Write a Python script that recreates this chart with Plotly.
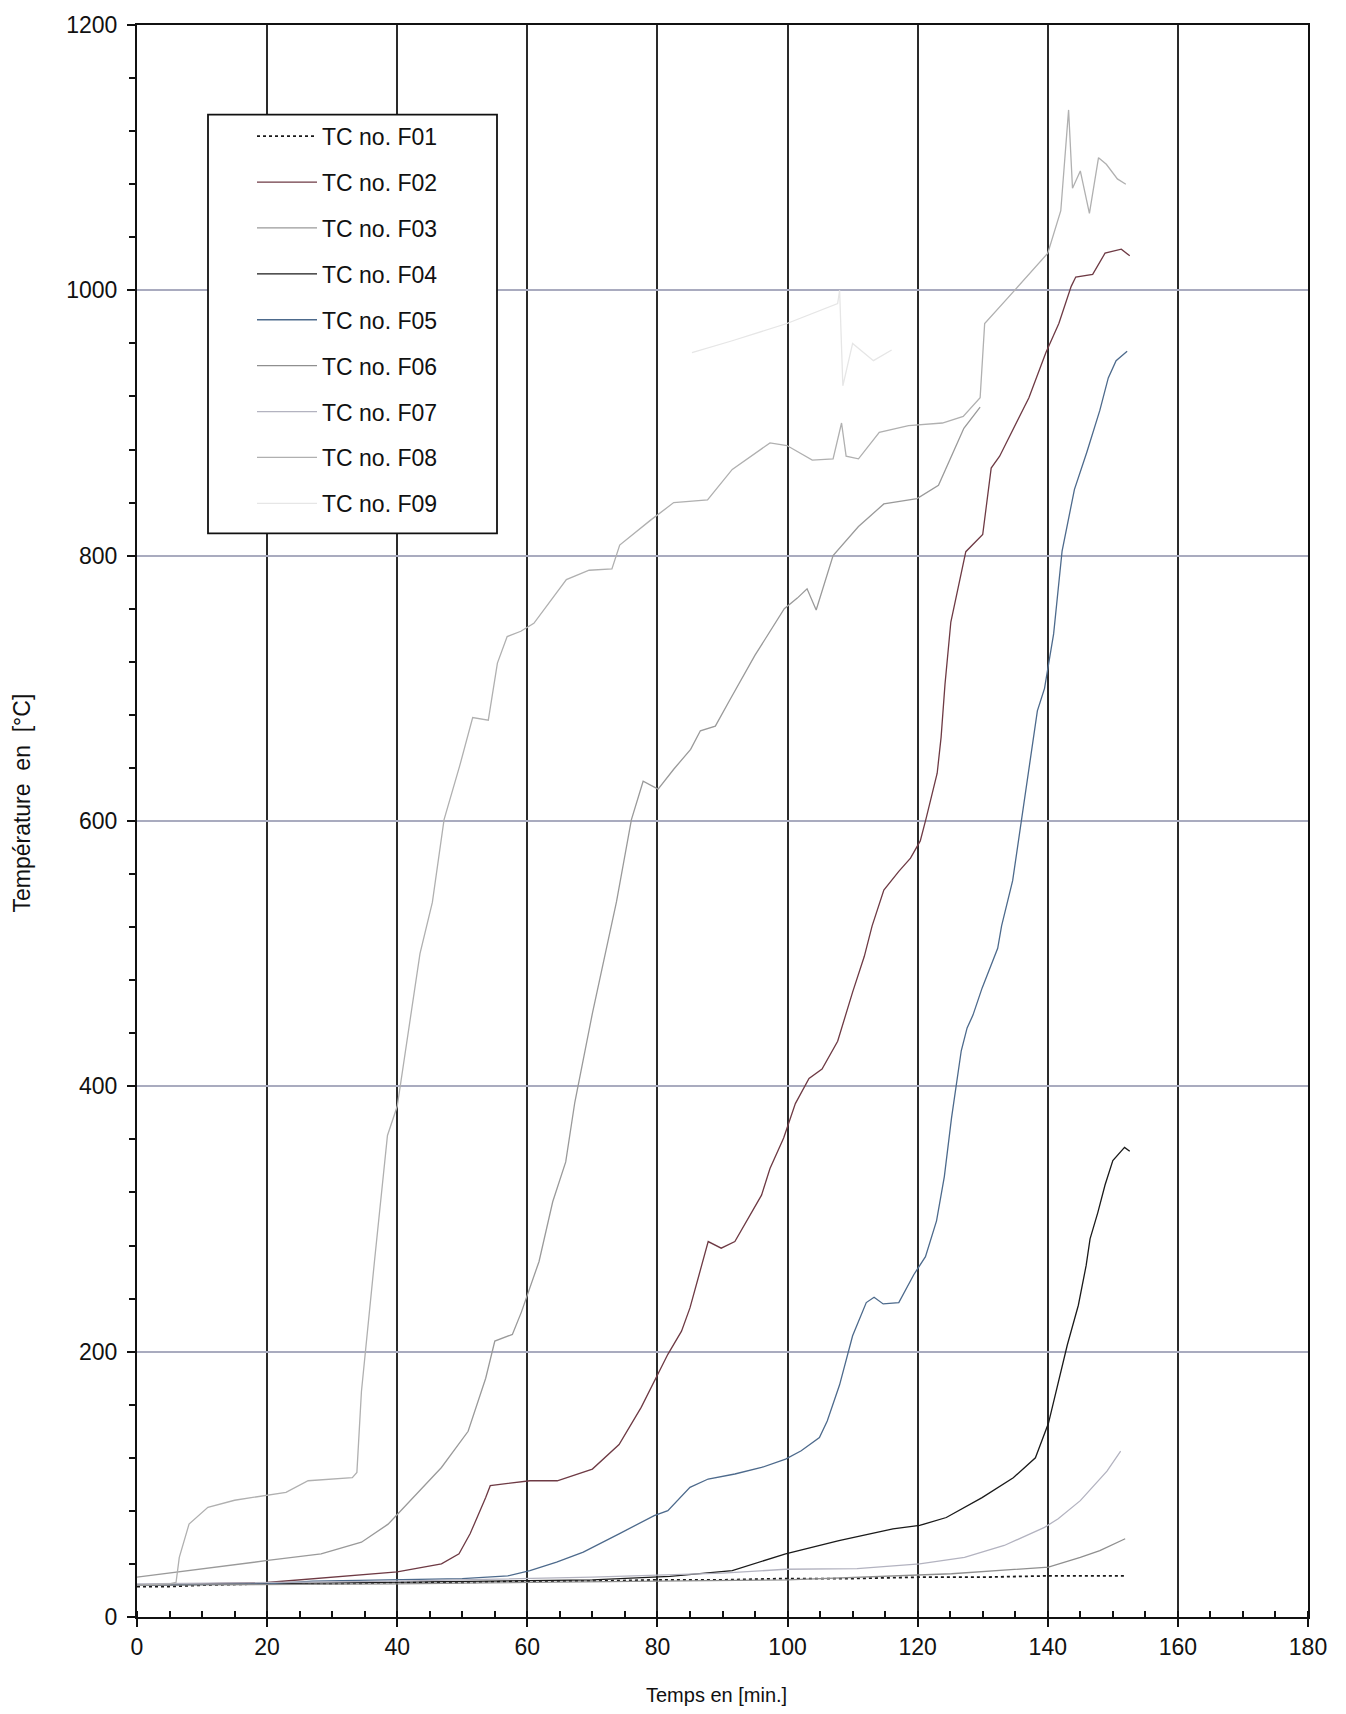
import plotly.graph_objects as go

# ---------------- data ----------------
t_f01 = [0, 5, 10, 20, 30, 40, 50, 60, 70, 80, 90, 100, 110, 120, 130, 140, 146, 152]
T_f01 = [23, 23, 24, 25, 25, 26, 26, 27, 27, 28, 28, 29, 29, 30, 30, 31, 31, 31]

t_f02 = [0, 20, 40, 46.8, 49.5, 51.2, 53.6, 54.3, 60.4, 64.6, 70, 74.1, 77.5, 79.2, 81.6, 83.7, 85, 86.4,
         87.8, 89.8, 91.9, 96, 97.3, 99.4, 101.2, 103.3, 105.3, 107.7, 110, 111.8, 113, 114.8, 117.1, 118.9,
         120.4, 121.3, 123, 123.6, 124.2, 125.1, 127.4, 130, 131.3, 132.6, 137.1, 139.7, 141.7, 143.6, 144.3,
         146.9, 148.8, 151.3, 152.6]
T_f02 = [24, 26, 34, 40, 47.6, 62.7, 90, 99, 102.7, 102.7, 111.5, 130, 158, 175, 198, 215.5, 233, 258,
         283, 278, 283, 318, 338, 361, 387, 406, 413, 434, 471, 498, 521, 548, 562, 572,
         585, 602, 636, 663, 703, 750, 803, 816, 866, 875, 919, 953, 975, 1003, 1010,
         1012, 1028, 1031, 1026]

t_f03 = [0, 10, 20.1, 28.3, 34.5, 38.6, 43.4, 46.8, 50.9, 53.6, 55, 57.7, 59.1, 61.8, 63.9, 65.9, 67.3, 70,
         73.7, 76, 77.8, 80.1, 82.5, 85.1, 86.6, 88.9, 91.1, 95, 99.5, 101.5, 103, 104.4, 107, 110.9, 114.8,
         119.9, 123.2, 127.1, 129.6]
T_f03 = [30, 36, 42.6, 47.6, 56.4, 70, 95, 112.7, 140, 180, 208, 213, 230, 268, 313, 343, 388, 455,
         539, 601, 630, 624, 639, 654, 668, 671.5, 691, 725, 760, 768, 775, 759, 800, 822, 839,
         843, 853, 896, 912]

t_f04 = [0, 20, 40, 60, 70, 81.9, 91.5, 99.7, 107.9, 116.2, 120.3, 124.4, 129.9, 134.7, 138.1, 140.1, 141.5,
         143, 144.7, 145.9, 146.5, 147.7, 148.8, 150, 151.8, 152.6]
T_f04 = [24, 25, 26, 27, 28, 30.6, 35, 47.6, 57.6, 66.4, 69, 75, 90, 105, 120, 146, 175,
         205, 235, 265, 285, 305, 325.6, 344, 354, 351]

t_f05 = [0, 20, 27, 40, 50, 57, 60.4, 64.5, 68.6, 74.1, 79.5, 81.6, 85, 87.8, 91.9, 96, 99.7, 102.1, 104.9,
         106.1, 108, 110, 112.1, 113.3, 114.7, 117.1, 119.4, 121.2, 122.9, 124.1, 125.2, 126.7, 127.6, 128.5,
         129.9, 132.3, 132.9, 134.6, 135.8, 136.9, 138.4, 139.5, 140.9, 142.2, 144.1, 146, 148, 149.3, 150.5,
         152.2]
T_f05 = [24, 25, 27, 28, 29, 31, 35, 41.3, 48.9, 62.7, 76.4, 80.2, 97.7, 104, 107.8, 112.7, 119, 125.3, 135.3,
         147.8, 175, 212, 237, 241, 236, 237, 258, 271.6, 298.6, 332, 376, 426.8, 444, 453.7,
         474, 504, 521, 555, 595.5, 636, 683, 700, 741, 803.5, 850, 878, 909.5, 934, 947,
         954]

t_f06 = [0, 40, 80, 100, 125.2, 140.1, 145, 148, 151.9]
T_f06 = [24, 25, 27, 28, 32.6, 37.6, 45, 50, 59]

t_f07 = [0, 40, 70, 90, 99.7, 110.7, 120.3, 127.2, 133.3, 139.5, 141.6, 145, 149.1, 151.2]
T_f07 = [25, 27, 30, 33, 36, 36.4, 40, 45, 53.9, 67.6, 74, 87.7, 110, 125]

t_f08 = [0, 5, 6, 6.5, 8, 10.9, 15, 22.9, 26.3, 33.1, 33.8, 34.5, 36.5, 38.5, 40, 42, 43.5, 45.4, 47.2,
         49.6, 51, 51.6, 54, 55.4, 56.9, 59, 61, 63.4, 66, 69.5, 73, 74.2, 78.9, 82.5, 87.7, 91.5, 97.3,
         99.9, 103.8, 107, 108.3, 109, 110.9, 114.1, 118.6, 123.8, 127, 129.6, 130.3, 134.9, 140, 142,
         143.2, 143.8, 145, 146.4, 147.8, 149, 150.7, 152]
T_f08 = [24, 25, 26, 45, 70, 82.7, 88, 94, 102.7, 105, 109, 170, 268, 363, 385, 450, 500, 538.6, 601,
         641.5, 666, 678, 676, 719, 739, 743, 749, 765, 782, 789, 790, 808, 826.6, 840, 842, 865, 885,
         883, 872, 873, 900, 875, 873, 893, 898, 900, 905, 919, 975, 1000, 1028, 1060,
         1136, 1077, 1090, 1058, 1100, 1095, 1084, 1080]

t_f09 = [85.3, 91.5, 99.9, 105, 107.7, 108, 108.5, 110, 113.2, 116]
T_f09 = [953, 962, 975, 985, 990, 1000, 928, 960, 947, 955]

names = ["TC no. F01", "TC no. F02", "TC no. F03", "TC no. F04", "TC no. F05",
         "TC no. F06", "TC no. F07", "TC no. F08", "TC no. F09"]
series_t = [t_f01, t_f02, t_f03, t_f04, t_f05, t_f06, t_f07, t_f08, t_f09]
series_T = [T_f01, T_f02, T_f03, T_f04, T_f05, T_f06, T_f07, T_f08, T_f09]

styles = [
    dict(color="#1a1a1a", width=1.8, dash="dot"),
    dict(color="#6e3a44", width=1.3, dash="solid"),
    dict(color="#9a9a9a", width=1.3, dash="solid"),
    dict(color="#1a1a1a", width=1.3, dash="solid"),
    dict(color="#4d6a8c", width=1.3, dash="solid"),
    dict(color="#8f8f8f", width=1.3, dash="solid"),
    dict(color="#b3b3c0", width=1.3, dash="solid"),
    dict(color="#b0b0b0", width=1.3, dash="solid"),
    dict(color="#e6e6e6", width=1.3, dash="solid"),
]

fig = go.Figure()
for i, (n, tx, ty, st) in enumerate(zip(names, series_t, series_T, styles)):
    fig.add_trace(go.Scatter(x=tx, y=ty, mode="lines", name=n, line=st,
                             legendgroup=n))

FONT = "Liberation Sans"
W, H = 1346, 1714
ml, mr, mt, mb = 137, 38, 20, 97
pw, ph = W - ml - mr, H - mt - mb

def px2x(px):
    return (px - ml) / pw

def px2y(py):
    return (H - mb - py) / ph

fig.update_layout(
    width=W, height=H,
    margin=dict(l=ml, r=mr, t=mt, b=mb),
    paper_bgcolor="white", plot_bgcolor="white",
    font=dict(family=FONT, color="#111"),
    showlegend=True,
    legend=dict(
        x=px2x(252), y=px2y(110), xanchor="left", yanchor="top",
        bgcolor="rgba(0,0,0,0)", borderwidth=0,
        font=dict(size=23, family=FONT, color="#111"),
        itemwidth=60, tracegroupgap=13, traceorder="grouped",
    ),
    xaxis=dict(
        range=[0, 180], tick0=0, dtick=20,
        showgrid=True, gridcolor="#2a2a2a", gridwidth=1.5,
        showline=True, linecolor="#111", linewidth=2, mirror=True,
        ticks="outside", ticklen=8, tickwidth=1.5, tickcolor="#111",
        minor=dict(ticks="inside", dtick=5, ticklen=6, tickwidth=1.5, tickcolor="#111", showgrid=False),
        tickfont=dict(size=23, family=FONT, color="#111"),
        zeroline=False,
    ),
    yaxis=dict(
        range=[0, 1200], tick0=0, dtick=200,
        showgrid=True, gridcolor="#a9abbf", gridwidth=2,
        showline=True, linecolor="#111", linewidth=2, mirror=True,
        ticks="outside", ticklen=8, tickwidth=1.5, tickcolor="#111",
        minor=dict(ticks="outside", dtick=40, ticklen=6, tickwidth=1.5, tickcolor="#111", showgrid=False),
        tickfont=dict(size=23, family=FONT, color="#111"),
        ticklabelstandoff=5,
        zeroline=False,
    ),
    shapes=[dict(type="rect", xref="paper", yref="paper",
                 x0=px2x(208), x1=px2x(497), y0=px2y(530), y1=px2y(110),
                 fillcolor="white", line=dict(color="#111", width=1.8), layer="above")],
    annotations=[
        dict(text="Temps en [min.]", xref="paper", yref="paper", x=px2x(716), y=px2y(1695),
             showarrow=False, font=dict(size=20, family=FONT, color="#111"), xanchor="center", yanchor="middle"),
        dict(text="Température  en  [°C]", xref="paper", yref="paper", x=px2x(22), y=px2y(801),
             showarrow=False, textangle=-90, font=dict(size=23, family=FONT, color="#111"),
             xanchor="center", yanchor="middle"),
    ],
)

fig.write_html("out.html")
